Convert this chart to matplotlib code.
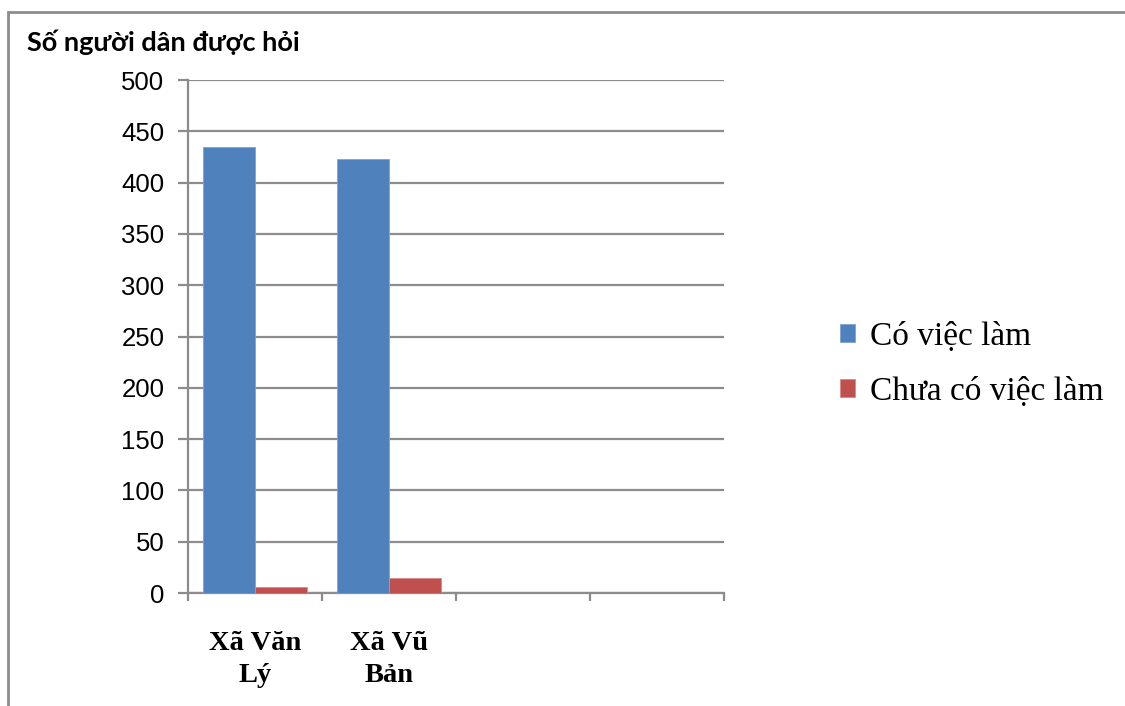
import matplotlib
matplotlib.use("Agg")
import matplotlib.pyplot as plt
from matplotlib.patches import Rectangle
import numpy as np

# số liệu khảo sát
categories = ["Xã Văn\nLý", "Xã Vũ\nBản", "", ""]
co_viec_lam = [435, 423]
chua_co_viec_lam = [6, 15]
series_names = ["Có việc làm", "Chưa có việc làm"]
y_ticks = [0, 50, 100, 150, 200, 250, 300, 350, 400, 450, 500]

blue = "#4F81BD"
red = "#C0504D"
grid_grey = "#8C8C8C"

fig = plt.figure(figsize=(11.25, 7.06), dpi=100)
ax = fig.add_axes([0.1671, 0.16, 0.4764, 0.7266])

# khung ngoài của biểu đồ
fig.patches.append(Rectangle((8 / 1125, -0.05), 1.2, 1 - 12 / 706 + 0.05,
                             transform=fig.transFigure, fill=False,
                             edgecolor=grid_grey, linewidth=2))

w = 0.39
x = np.arange(len(co_viec_lam))
ax.bar(x - w / 2, co_viec_lam, w, color=blue, edgecolor="#7FA3D1",
       linewidth=0.6, label=series_names[0], zorder=3)
ax.bar(x + w / 2, chua_co_viec_lam, w, color=red, edgecolor="#D88A88",
       linewidth=0.6, label=series_names[1], zorder=3)

ax.set_xlim(-0.5, len(categories) - 0.5)
ax.set_ylim(0, 500)
ax.set_yticks(y_ticks)
ax.yaxis.grid(True, color=grid_grey, linewidth=1.6)
ax.set_axisbelow(True)
ax.tick_params(axis="y", length=7, width=1.6, color=grid_grey,
               labelsize=18.5, pad=10)
for lbl in ax.get_yticklabels():
    lbl.set_family("Liberation Sans")

# vạch chia giữa các nhóm, nhãn đặt ở giữa nhóm
ax.set_xticks(np.arange(len(categories) + 1) - 0.5)
ax.set_xticklabels([])
ax.tick_params(axis="x", which="major", length=6, width=1.6, color=grid_grey)
ax.set_xticks(np.arange(len(categories)), minor=True)
ax.set_xticklabels(categories, minor=True, family="Liberation Serif",
                   fontweight="bold", fontsize=20.5, linespacing=1.4)
ax.tick_params(axis="x", which="minor", length=0, pad=27)

for side in ("top", "right"):
    ax.spines[side].set_visible(False)
for side in ("left", "bottom"):
    ax.spines[side].set_color(grid_grey)
    ax.spines[side].set_linewidth(1.6)

fig.text(27 / 1125, 1 - 42 / 706, "Số người dân được hỏi", family="Lato",
         fontweight="bold", fontsize=19.5, va="center", ha="left")

ax.legend(loc="center left", bbox_to_anchor=(810 / 1125, 1 - 364 / 706),
          bbox_transform=fig.transFigure, frameon=False,
          prop={"family": "Liberation Serif", "size": 24},
          handlelength=0.45, handleheight=0.45, handletextpad=0.45,
          labelspacing=0.72)

fig.savefig("out.png", dpi=100)
